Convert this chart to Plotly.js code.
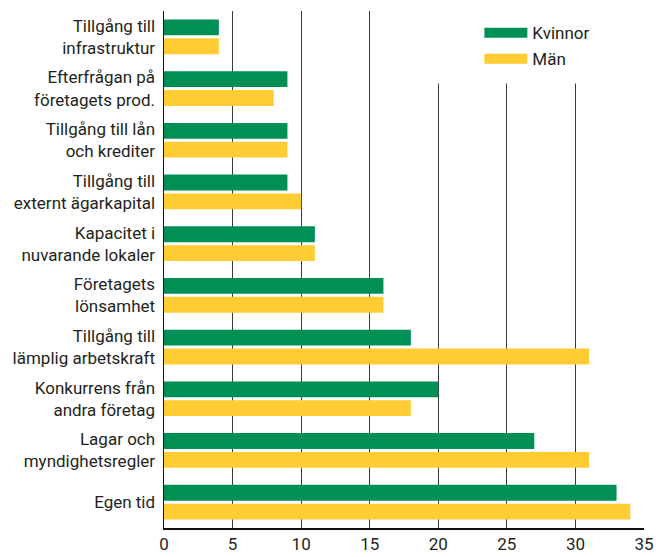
<!DOCTYPE html>
<html>
<head>
<meta charset="utf-8">
<script src="https://cdn.plot.ly/plotly-3.0.1.min.js"></script>
<style>html,body{margin:0;padding:0;background:#fff;}</style>
</head>
<body>
<div id="chart" style="width:656px;height:557px;"></div>
<script>
const categories = [
  "Tillgång till<br>infrastruktur",
  "Efterfrågan på<br>företagets prod.",
  "Tillgång till lån<br>och krediter",
  "Tillgång till<br>externt ägarkapital",
  "Kapacitet i<br>nuvarande lokaler",
  "Företagets<br>lönsamhet",
  "Tillgång till<br>lämplig arbetskraft",
  "Konkurrens från<br>andra företag",
  "Lagar och<br>myndighetsregler",
  "Egen tid"
];
const kvinnor = [4, 9, 9, 9, 11, 16, 18, 20, 27, 33];
const man = [4, 8, 9, 10, 11, 16, 31, 18, 31, 34];
const seriesNames = ["Kvinnor", "Män"];
const colors = ["#008F55", "#FFCC33"];
const xTicks = [0, 5, 10, 15, 20, 25, 30, 35];

const FONT = "Roboto, sans-serif";
const TXT = "#231f20";

const data = [
  {type: "bar", orientation: "h", name: seriesNames[0], y: categories, x: kvinnor,
   marker: {color: colors[0], line: {width: 0}}, showlegend: false, hoverinfo: "x"},
  {type: "bar", orientation: "h", name: seriesNames[1], y: categories, x: man,
   marker: {color: colors[1], line: {width: 0}}, showlegend: false, hoverinfo: "x"},
  {type: "scatter", mode: "lines", name: seriesNames[0], x: [null], y: [null], legendgroup: "a",
   showlegend: true, line: {color: colors[0], width: 13}},
  {type: "scatter", mode: "lines", name: seriesNames[1], x: [null], y: [null], legendgroup: "b",
   showlegend: true, line: {color: colors[1], width: 13}}
];

const layout = {
  width: 656, height: 557,
  margin: {l: 164, r: 11.5, t: 11, b: 29, pad: 0},
  paper_bgcolor: "#fff", plot_bgcolor: "#fff",
  font: {family: FONT, color: TXT, size: 17},
  barmode: "group", bargap: 0.27, bargroupgap: 0.16,
  xaxis: {
    range: [0, 35], tickvals: xTicks, ticktext: xTicks.map(String),
    showgrid: true, gridcolor: "#3a3a3a", gridwidth: 1,
    showline: true, linecolor: "#111", linewidth: 1.5,
    ticks: "", zeroline: false, fixedrange: true,
    tickfont: {family: FONT, size: 17, color: TXT}
  },
  yaxis: {
    autorange: "reversed", showgrid: false, zeroline: false,
    showline: true, linecolor: "#111", linewidth: 1.5,
    ticks: "", ticklabelstandoff: 4,
    tickfont: {family: FONT, size: 17, color: TXT}
  },
  showlegend: true,
  legend: {
    x: 0.657, xanchor: "left", y: 0.992, yanchor: "top",
    bgcolor: "rgba(255,255,255,0)", borderwidth: 0,
    itemwidth: 43, traceorder: "grouped", tracegroupgap: 1,
    font: {family: FONT, size: 17, color: TXT}
  },
  shapes: [
    {type: "rect", xref: "paper", yref: "paper", x0: 0.52, x1: 0.97, y0: 0.86, y1: 1.01,
     fillcolor: "#fff", line: {width: 0}, layer: "above"}
  ]
};

Plotly.newPlot("chart", data, layout, {displayModeBar: false, staticPlot: true});
</script>
</body>
</html>
